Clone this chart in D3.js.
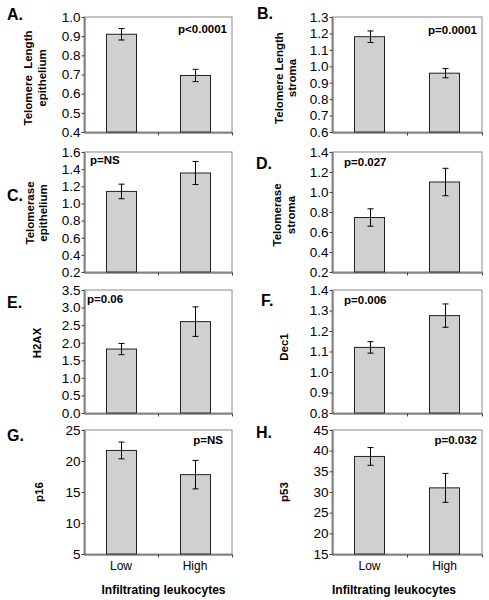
<!DOCTYPE html>
<html><head><meta charset="utf-8">
<script src="https://cdn.jsdelivr.net/npm/d3@7"></script>
<style>
body{margin:0;background:#fff;}
svg{display:block;font-family:"Liberation Sans",Arial,sans-serif;}
</style></head>
<body><svg id="c" width="489" height="600"></svg>
<script>
// ---- data ----
const categories = ["Low", "High"];
const panelLetters = ["A.", "B.", "C.", "D.", "E.", "F.", "G.", "H."];
const yTitles = [
  ["Telomere  Length", "epithelium"],
  ["Telomere Length", "stroma"],
  ["Telomerase", "epithelium"],
  ["Telomerase", "stroma"],
  ["H2AX"], ["Dec1"], ["p16"], ["p53"]
];
const pValues = ["p<0.0001", "p=0.0001", "p=NS", "p=0.027", "p=0.06", "p=0.006", "p=NS", "p=0.032"];
const lowMeans  = [0.91, 1.18, 1.14, 0.745, 1.82, 1.12, 21.7, 38.6];
const highMeans = [0.695, 0.958, 1.355, 1.10, 2.60, 1.275, 17.8, 31.0];
const lowErr    = [0.03, 0.035, 0.085, 0.087, 0.16, 0.028, 1.35, 2.15];
const highErr   = [0.032, 0.028, 0.135, 0.137, 0.42, 0.057, 2.3, 3.5];
const yTickLabels = [
  ["0.4","0.5","0.6","0.7","0.8","0.9","1.0"],
  ["0.6","0.7","0.8","0.9","1.0","1.1","1.2","1.3"],
  ["0.2","0.4","0.6","0.8","1.0","1.2","1.4","1.6"],
  ["0.2","0.4","0.6","0.8","1.0","1.2","1.4"],
  ["0.0","0.5","1.0","1.5","2.0","2.5","3.0","3.5"],
  ["0.8","0.9","1.0","1.1","1.2","1.3","1.4"],
  ["5","10","15","20","25"],
  ["15","20","25","30","35","40","45"]
];
const xAxisTitle = "Infiltrating leukocytes";

// ---- layout ----
const cols = [[84, 232], [332, 482]];
const rows = [[17, 132], [152, 272], [290, 413], [430, 554]];
const letterPos = [[7,20],[257,19],[7,201],[256,169],[7,308],[261,306],[7,441],[256,438]];
const titlePos = [[28,78],[278.5,78],[29.5,213],[277,215],[37,343],[284,347],[39,492],[284,492]];
const pPos = [[227,33,"end"],[477,34,"end"],[90,164,"start"],[344,166,"start"],[87,303,"start"],[344,304,"start"],[223,444,"end"],[477,444,"end"]];
const xTitlePos = [163.5, 394];

const svg = d3.select("#c");

panelLetters.forEach((letter, i) => {
  const col = i % 2, row = Math.floor(i / 2);
  const [x0, x1] = cols[col];
  const [yTop, yBot] = rows[row];
  const ticks = yTickLabels[i].map(Number);
  const y = d3.scaleLinear().domain([ticks[0], ticks[ticks.length - 1]]).range([yBot, yTop]);
  const x = d3.scaleBand().domain(categories).range([x0, x1]).paddingInner(0.595).paddingOuter(0.2975);
  const g = svg.append("g");

  // plot frame
  g.append("rect").attr("x", x0).attr("y", yTop).attr("width", x1 - x0).attr("height", yBot - yTop)
    .attr("fill", "none").attr("stroke", "#8a8a8a").attr("stroke-width", 1);

  // bars
  const vals = [lowMeans[i], highMeans[i]];
  const errs = [lowErr[i], highErr[i]];
  g.selectAll("rect.bar").data(categories).join("rect").attr("class", "bar")
    .attr("x", d => Math.round(x(d)) + 0.5)
    .attr("width", Math.round(x.bandwidth()))
    .attr("y", (d, k) => y(vals[k]))
    .attr("height", (d, k) => yBot - y(vals[k]))
    .attr("fill", "#d0d0d0").attr("stroke", "#222").attr("stroke-width", 1);

  // error bars
  categories.forEach((c, k) => {
    const cx = Math.round(x(c) + x.bandwidth() / 2) + 0.5;
    const hi = y(vals[k] + errs[k]), lo = y(vals[k] - errs[k]);
    g.append("line").attr("x1", cx).attr("x2", cx).attr("y1", hi).attr("y2", lo).attr("stroke", "#000");
    [hi, lo].forEach(yy => g.append("line").attr("x1", cx - 3).attr("x2", cx + 3)
      .attr("y1", yy).attr("y2", yy).attr("stroke", "#000"));
  });

  // y axis
  const ya = g.append("g").attr("transform", `translate(${x0 + 0.5},0)`)
    .call(d3.axisLeft(y).tickValues(ticks).tickSizeInner(3).tickSizeOuter(0).tickPadding(1)
      .tickFormat((d, k) => yTickLabels[i][k]));
  ya.selectAll("text").attr("font-size", "13.5px").attr("fill", "#000").attr("font-family", "Liberation Sans, Arial, sans-serif");
  ya.selectAll("line,path").attr("stroke", "#444");

  // x axis (category separators)
  const xl = d3.scaleLinear().domain([0, 2]).range([x0, x1]);
  const xa = g.append("g").attr("transform", `translate(0,${yBot + 0.5})`)
    .call(d3.axisBottom(xl).tickValues([1, 2]).tickSizeInner(3).tickSizeOuter(0).tickFormat(""));
  xa.selectAll("line,path").attr("stroke", "#444");

  if (row === 3) {
    g.selectAll("text.cat").data(categories).join("text").attr("class", "cat")
      .attr("x", d => x(d) + x.bandwidth() / 2).attr("y", yBot + 16)
      .attr("text-anchor", "middle").attr("font-size", "12px").text(d => d);
    g.append("text").attr("x", xTitlePos[col]).attr("y", 594).attr("text-anchor", "middle")
      .attr("font-size", "12px").attr("font-weight", "bold").text(xAxisTitle);
  }

  // panel letter
  g.append("text").attr("x", letterPos[i][0]).attr("y", letterPos[i][1])
    .attr("font-size", "16px").attr("font-weight", "bold").text(letter);

  // y title
  const lines = yTitles[i];
  const [tcx, tcy] = titlePos[i];
  const t = g.append("text").attr("transform", `translate(${tcx + 4},${tcy}) rotate(-90)`)
    .attr("text-anchor", "middle").attr("font-size", "11.5px").attr("font-weight", "bold")
    .attr("xml:space", "preserve").style("white-space", "pre");
  lines.forEach((ln, k) => t.append("tspan").attr("x", 0).attr("y", k * 13.5).text(ln));

  // p-value
  g.append("text").attr("x", pPos[i][0]).attr("y", pPos[i][1]).attr("text-anchor", pPos[i][2])
    .attr("font-size", "11.5px").attr("font-weight", "bold").text(pValues[i]);
});
</script></body></html>
